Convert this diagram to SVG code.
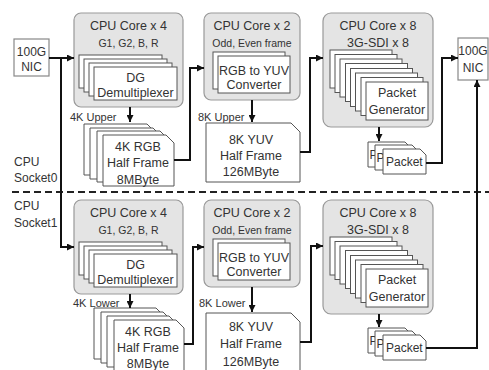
<svg xmlns="http://www.w3.org/2000/svg" width="489" height="370" viewBox="0 0 489 370">
<defs>
<marker id="ah" viewBox="0 0 10 10" refX="10" refY="5" markerWidth="7" markerHeight="7" orient="auto" markerUnits="userSpaceOnUse"><path d="M0,0 L10,5 L0,10 z" fill="#111"/></marker>
<style>
text{font-family:"Liberation Sans",Arial,sans-serif;fill:#333;}
.t{font-size:12.5px;text-anchor:middle;}
.s{font-size:10.5px;text-anchor:middle;}
.l{font-size:11px;}
.lab{font-size:12px;}
.nic{font-size:12px;text-anchor:middle;}
.box{fill:#e4e4e4;stroke:#999;stroke-width:1.2;}
.card{fill:#fff;stroke:#555;stroke-width:1;}
.nicb{fill:#fff;stroke:#888;stroke-width:1.2;}
.w{fill:none;stroke:#111;stroke-width:2;marker-end:url(#ah);}
</style>
</defs>
<rect width="489" height="370" fill="#fff"/>
<g id="labels">
<text class="lab" x="14" y="166">CPU</text>
<text class="lab" x="14" y="182">Socket0</text>
<text class="lab" x="14" y="210">CPU</text>
<text class="lab" x="14" y="227">Socket1</text>
<text class="l" x="70" y="121">4K Upper</text>
<text class="l" x="198" y="121">8K Upper</text>
<text class="l" x="73" y="307">4K Lower</text>
<text class="l" x="199" y="307">8K Lower</text>
</g>
<line x1="12" y1="192" x2="489" y2="192" stroke="#222" stroke-width="2" stroke-dasharray="7 4"/>
<g id="nic-in">
<rect class="nicb" x="14" y="39" width="35" height="37"/>
<text class="nic" x="31.5" y="56">100G</text>
<text class="nic" x="31.5" y="71">NIC</text>
</g>
<g id="nic-out">
<rect class="nicb" x="458" y="38" width="30" height="42"/>
<text class="nic" x="473" y="55">100G</text>
<text class="nic" x="473" y="72">NIC</text>
</g>
<g id="demux0">
<rect class="box" x="74" y="13" width="109" height="94" rx="7"/>
<text class="t" x="128.5" y="30">CPU Core x 4</text>
<text class="s" x="128.5" y="47">G1, G2, B, R</text>
<rect class="card" x="79" y="55" width="83" height="33"/>
<rect class="card" x="84" y="59" width="83" height="33"/>
<rect class="card" x="89" y="63" width="83" height="33"/>
<rect class="card" x="94" y="67" width="83" height="33"/>
<text class="t" x="135.5" y="82">DG</text>
<text class="t" x="135.5" y="97">Demultiplexer</text>
</g>
<g id="demux1">
<rect class="box" x="74" y="200" width="109" height="94" rx="7"/>
<text class="t" x="128.5" y="217">CPU Core x 4</text>
<text class="s" x="128.5" y="234">G1, G2, B, R</text>
<rect class="card" x="79" y="242" width="83" height="33"/>
<rect class="card" x="84" y="246" width="83" height="33"/>
<rect class="card" x="89" y="250" width="83" height="33"/>
<rect class="card" x="94" y="254" width="83" height="33"/>
<text class="t" x="135.5" y="269">DG</text>
<text class="t" x="135.5" y="284">Demultiplexer</text>
</g>
<g id="rgb0">
<path class="card" d="M84 124 H147 L155 132 V175 H84 Z"/>
<path class="card" d="M90 128 H153 L161 136 V179 H90 Z"/>
<path class="card" d="M97 131 H160 L168 139 V182 H97 Z"/>
<path class="card" d="M103 135 H166 L174 143 V186 H103 Z"/>
<text class="t" x="138" y="151">4K RGB</text>
<text class="t" x="138" y="167">Half Frame</text>
<text class="t" x="138" y="184">8MByte</text>
</g>
<g id="rgb1">
<path class="card" d="M94 308 H156 L164 316 V359 H94 Z"/>
<path class="card" d="M101 312 H163 L171 320 V363 H101 Z"/>
<path class="card" d="M107 316 H169 L177 324 V367 H107 Z"/>
<path class="card" d="M114 320 H176 L184 328 V371 H114 Z"/>
<text class="t" x="148" y="336">4K RGB</text>
<text class="t" x="148" y="352">Half Frame</text>
<text class="t" x="148" y="368">8MByte</text>
</g>
<g id="conv0">
<rect class="box" x="204" y="13" width="96" height="87" rx="7"/>
<text class="t" x="252" y="30">CPU Core x 2</text>
<text class="s" x="252" y="47">Odd, Even  frame</text>
<rect class="card" x="213" y="52" width="72" height="37"/>
<rect class="card" x="218" y="56" width="72" height="37"/>
<text class="t" x="254" y="75">RGB to YUV</text>
<text class="t" x="254" y="89">Converter</text>
</g>
<g id="conv1">
<rect class="box" x="204" y="200" width="96" height="87" rx="7"/>
<text class="t" x="252" y="217">CPU Core x 2</text>
<text class="s" x="252" y="234">Odd, Even  frame</text>
<rect class="card" x="213" y="239" width="72" height="37"/>
<rect class="card" x="218" y="243" width="72" height="37"/>
<text class="t" x="254" y="262">RGB to YUV</text>
<text class="t" x="254" y="276">Converter</text>
</g>
<g id="yuv0">
<path class="card" d="M206 123 H291 L300 132 V182 H206 Z"/>
<text class="t" x="251" y="144">8K YUV</text>
<text class="t" x="251" y="160">Half Frame</text>
<text class="t" x="251" y="176">126MByte</text>
</g>
<g id="yuv1">
<path class="card" d="M206 313 H291 L300 322 V372 H206 Z"/>
<text class="t" x="251" y="331">8K YUV</text>
<text class="t" x="251" y="348">Half Frame</text>
<text class="t" x="251" y="366">126MByte</text>
</g>
<g id="pktgen0">
<rect class="box" x="323" y="13" width="110" height="114" rx="8"/>
<text class="t" x="378" y="30">CPU Core x 8</text>
<text class="t" x="378" y="47">3G-SDI x 8</text>
<rect class="card" x="330" y="50" width="62" height="38"/>
<rect class="card" x="335" y="54.5" width="62" height="38"/>
<rect class="card" x="340" y="59" width="62" height="38"/>
<rect class="card" x="345.5" y="63.5" width="62" height="38"/>
<rect class="card" x="350.5" y="68.5" width="62" height="38"/>
<rect class="card" x="355.5" y="73" width="62" height="38"/>
<rect class="card" x="361" y="77.5" width="62" height="38"/>
<rect class="card" x="366" y="82" width="62" height="38"/>
<text class="t" x="397" y="97">Packet</text>
<text class="t" x="397" y="114">Generator</text>
</g>
<g id="pktgen1">
<rect class="box" x="323" y="200" width="110" height="114" rx="8"/>
<text class="t" x="378" y="217">CPU Core x 8</text>
<text class="t" x="378" y="234">3G-SDI x 8</text>
<rect class="card" x="330" y="237" width="62" height="38"/>
<rect class="card" x="335" y="241.5" width="62" height="38"/>
<rect class="card" x="340" y="246" width="62" height="38"/>
<rect class="card" x="345.5" y="250.5" width="62" height="38"/>
<rect class="card" x="350.5" y="255.5" width="62" height="38"/>
<rect class="card" x="355.5" y="260" width="62" height="38"/>
<rect class="card" x="361" y="264.5" width="62" height="38"/>
<rect class="card" x="366" y="269" width="62" height="38"/>
<text class="t" x="397" y="284">Packet</text>
<text class="t" x="397" y="301">Generator</text>
</g>
<g id="packet0">
<path class="card" d="M368 142 H405 L411 148 V167 H368 Z"/>
<text class="lab" x="369.5" y="159">P</text>
<path class="card" d="M375 145 H412 L418 151 V170 H375 Z"/>
<text class="lab" x="376.5" y="162">P</text>
<path class="card" d="M383 149 H420 L426 155 V174 H383 Z"/>
<text class="lab" x="386" y="166">Packet</text>
</g>
<g id="packet1">
<path class="card" d="M368 328 H405 L411 334 V353 H368 Z"/>
<text class="lab" x="369.5" y="345">P</text>
<path class="card" d="M375 331 H412 L418 337 V356 H375 Z"/>
<text class="lab" x="376.5" y="348">P</text>
<path class="card" d="M383 335 H420 L426 341 V360 H383 Z"/>
<text class="lab" x="386" y="352">Packet</text>
</g>
<g id="connectors">
<path class="w" d="M49 58 H74"/>
<path class="w" d="M61 58 V247 H74"/>
<path class="w" d="M130 107 V122"/>
<path class="w" d="M130 294 V308"/>
<path class="w" d="M252 100 V122"/>
<path class="w" d="M252 287 V312"/>
<path class="w" d="M379 127 V141"/>
<path class="w" d="M379 314 V327"/>
<path class="w" d="M174 160 H190 V68 H204"/>
<path class="w" d="M184 344 H193 V247 H204"/>
<path class="w" d="M300 152 H310 V58 H323"/>
<path class="w" d="M300 342 H311 V246 H323"/>
<path class="w" d="M426 163 H442 V58 H458"/>
<path class="w" d="M426 348 H477 V80"/>
</g>
</svg>
